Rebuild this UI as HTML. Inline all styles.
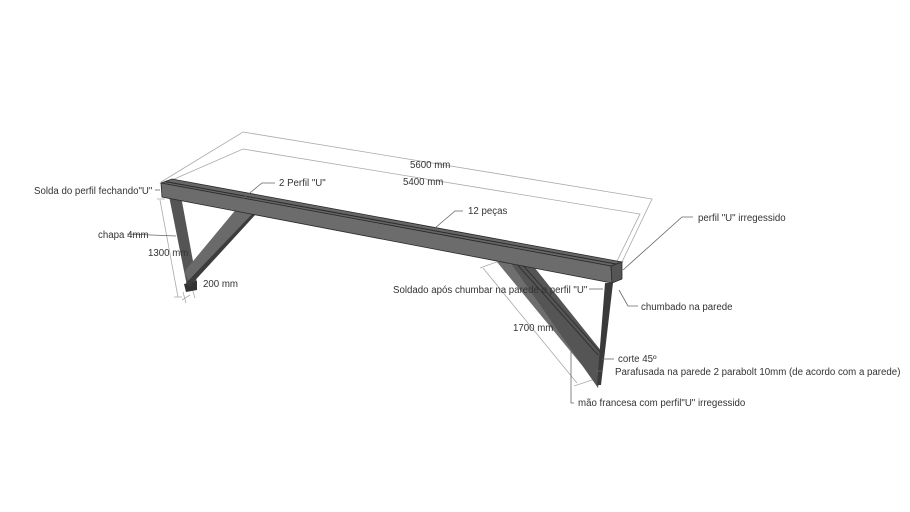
<!DOCTYPE html>
<html><head><meta charset="utf-8"><style>
html,body{margin:0;padding:0;background:#fff;}
svg{display:block;}
text{font-family:"Liberation Sans",sans-serif;font-size:9.7px;fill:#333;}
</style></head><body>
<svg width="910" height="512" viewBox="0 0 910 512" xmlns="http://www.w3.org/2000/svg">
<g stroke="#aaa" stroke-width="0.8" fill="none">
<polyline points="161,182 243,132 652,199 622,262"/>
<polyline points="172,180 243,149 640,214 616,263"/>
<line x1="160" y1="200" x2="178" y2="297"/>
<line x1="157" y1="199" x2="165" y2="199"/>
<line x1="174" y1="297" x2="182" y2="297"/>
<line x1="182" y1="300" x2="190" y2="295"/>
<line x1="183" y1="292" x2="186" y2="303"/>
<line x1="192" y1="288" x2="195" y2="298"/>
<line x1="483" y1="268" x2="577" y2="383"/>
<line x1="480" y1="268" x2="502" y2="260"/>
<line x1="574" y1="386" x2="598" y2="378"/>
</g>
<polygon points="169,196 181,196 197,283 187,286" fill="#555"/>
<polygon points="184,284 197,281 197,290 186,292" fill="#333"/>
<polygon points="184,272 238,207 256,210 190,283" fill="#6a6a6a"/>
<polygon points="186,283 256,210 257,213 189,287" fill="#3c3c3c"/>
<polygon points="497,262 530,262 602,352 598,388 590,375" fill="#6e6e6e"/>
<polygon points="510,262 530,262 602,352 598,388" fill="#555"/>
<line x1="515" y1="262" x2="598" y2="355" stroke="#333" stroke-width="1"/>
<line x1="520" y1="262" x2="600" y2="352" stroke="#333" stroke-width="1"/>
<polygon points="605,283 613,283 601,385 597,385" fill="#3a3a3a"/>
<polygon points="161,183 172,179 622,262 611,266" fill="#666" stroke="#2a2a2a" stroke-width="0.8"/>
<line x1="165" y1="181.5" x2="616" y2="264" stroke="#2a2a2a" stroke-width="1"/>
<polygon points="161,183 611,266 612,283 162,197" fill="#6c6c6c" stroke="#2a2a2a" stroke-width="0.8"/>
<polygon points="611,266 622,262 622,279 612,283" fill="#555" stroke="#2a2a2a" stroke-width="0.8"/>
<g stroke="#666" stroke-width="0.8" fill="none">
<polyline points="155,190 160,190"/>
<polyline points="127,234 176,236"/>
<polyline points="275,183 262,183 240,201"/>
<polyline points="463,211 455,211 435,228"/>
<polyline points="693,217 682,217 623,270"/>
<polyline points="589,289 603,289"/>
<polyline points="638,306 628,306 619,290"/>
<polyline points="614,359 602,359"/>
<polyline points="596,371 602,371"/>
<polyline points="574,403 571,403 571,349"/>
</g>
<text x="410" y="168">5600 mm</text>
<text x="403" y="185">5400 mm</text>
<text x="34" y="194">Solda do perfil fechando"U"</text>
<text x="279" y="186">2 Perfil "U"</text>
<text x="468" y="214">12 peças</text>
<text x="698" y="221">perfil "U" irregessido</text>
<text x="98" y="238">chapa 4mm</text>
<text x="148" y="256">1300 mm</text>
<text x="203" y="287">200 mm</text>
<text x="393" y="293">Soldado após chumbar na parede o perfil "U"</text>
<text x="641" y="310">chumbado na parede</text>
<text x="513" y="331">1700 mm</text>
<text x="618" y="362">corte 45º</text>
<text x="615" y="375">Parafusada na parede 2 parabolt 10mm (de acordo com a parede)</text>
<text x="578" y="406">mão francesa com perfil"U" irregessido</text>
</svg>
</body></html>
